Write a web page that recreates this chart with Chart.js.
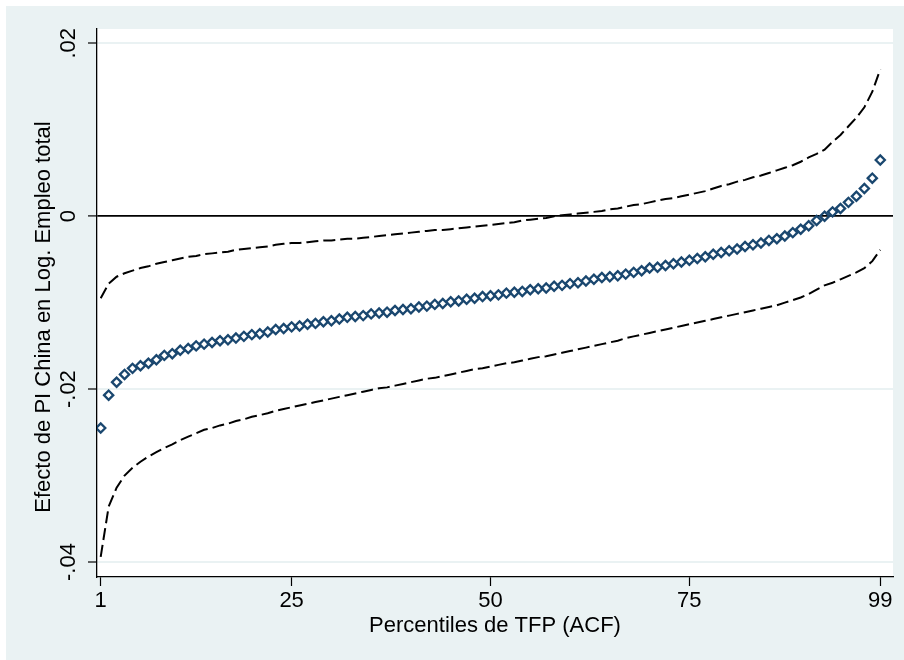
<!DOCTYPE html>
<html>
<head>
<meta charset="utf-8">
<script src="https://cdn.jsdelivr.net/npm/chart.js@4"></script>
<style>
  body { margin: 0; background: #fff; }
  #wrap { width: 904px; height: 660px; }
</style>
</head>
<body>
<div id="wrap"><canvas id="chart" width="904" height="660"></canvas></div>
<script>
// percentiles 1..99 of TFP (ACF)
const percentiles = Array.from({ length: 99 }, (_, i) => i + 1);
const xTickValues = [1, 25, 50, 75, 99];
const yTickValues = [-0.04, -0.02, 0, 0.02];
const yTickLabels = ['-.04', '-.02', '0', '.02'];

// point estimates
const effect = [
  -0.0245, -0.0207, -0.0192, -0.0183, -0.0176, -0.0173, -0.0170, -0.0166, -0.0161, -0.0159,
  -0.0155, -0.0153, -0.0150, -0.0148, -0.0146, -0.0144, -0.0143, -0.0141, -0.0139, -0.0137,
  -0.0136, -0.0134, -0.0131, -0.0130, -0.0128, -0.0127, -0.0125, -0.0124, -0.0122, -0.0121,
  -0.0119, -0.0117, -0.0116, -0.0115, -0.0113, -0.0112, -0.0111, -0.0109, -0.0108, -0.0107,
  -0.0105, -0.0104, -0.0102, -0.0101, -0.0099, -0.0098, -0.0096, -0.0095, -0.0093, -0.0092,
  -0.0091, -0.0089, -0.0088, -0.0087, -0.0085, -0.0084, -0.0083, -0.0081, -0.0080, -0.0078,
  -0.0077, -0.0075, -0.0073, -0.0071, -0.0070, -0.0069, -0.0067, -0.0065, -0.0063, -0.0060,
  -0.0059, -0.0057, -0.0055, -0.0053, -0.0051, -0.0049, -0.0047, -0.0044, -0.0042, -0.0040,
  -0.0038, -0.0035, -0.0033, -0.0031, -0.0028, -0.0026, -0.0023, -0.0019, -0.0015, -0.0011,
  -0.0005, 0.0000, 0.0005, 0.0009, 0.0016, 0.0023, 0.0032, 0.0044, 0.0065
];

// upper bound of CI
const upper = [
  -0.0095, -0.0078, -0.0070, -0.0066, -0.0063, -0.0060, -0.0058, -0.0055, -0.0053, -0.0051,
  -0.0049, -0.0047, -0.0046, -0.0044, -0.0043, -0.0042, -0.0041, -0.0039, -0.0038, -0.0037,
  -0.0036, -0.0035, -0.0033, -0.0032, -0.0031, -0.0031, -0.0030, -0.0029, -0.0028, -0.0028,
  -0.0027, -0.0026, -0.0026, -0.0025, -0.0024, -0.0023, -0.0022, -0.0021, -0.0020, -0.0019,
  -0.0018, -0.0017, -0.0016, -0.0016, -0.0015, -0.0014, -0.0013, -0.0012, -0.0011, -0.0010,
  -0.0009, -0.0008, -0.0007, -0.0005, -0.0004, -0.0003, -0.0002, 0.0000, 0.0001, 0.0002,
  0.0003, 0.0004, 0.0005, 0.0006, 0.0008, 0.0009, 0.0011, 0.0013, 0.0014, 0.0016,
  0.0018, 0.0020, 0.0021, 0.0023, 0.0025, 0.0027, 0.0029, 0.0032, 0.0035, 0.0037,
  0.0040, 0.0042, 0.0045, 0.0047, 0.0050, 0.0053, 0.0056, 0.0059, 0.0063, 0.0068,
  0.0072, 0.0077, 0.0086, 0.0094, 0.0104, 0.0114, 0.0126, 0.0144, 0.0170
];

// lower bound of CI
const lower = [
  -0.0394, -0.0336, -0.0314, -0.0300, -0.0291, -0.0284, -0.0278, -0.0273, -0.0268, -0.0264,
  -0.0259, -0.0255, -0.0251, -0.0247, -0.0245, -0.0242, -0.0240, -0.0237, -0.0235, -0.0232,
  -0.0230, -0.0228, -0.0225, -0.0223, -0.0221, -0.0219, -0.0217, -0.0215, -0.0213, -0.0211,
  -0.0209, -0.0207, -0.0205, -0.0203, -0.0201, -0.0199, -0.0198, -0.0196, -0.0194, -0.0192,
  -0.0190, -0.0188, -0.0187, -0.0185, -0.0183, -0.0181, -0.0179, -0.0177, -0.0176, -0.0174,
  -0.0172, -0.0170, -0.0169, -0.0167, -0.0165, -0.0163, -0.0162, -0.0160, -0.0158, -0.0156,
  -0.0154, -0.0152, -0.0150, -0.0148, -0.0146, -0.0144, -0.0141, -0.0139, -0.0137, -0.0135,
  -0.0133, -0.0131, -0.0129, -0.0127, -0.0125, -0.0123, -0.0121, -0.0119, -0.0117, -0.0115,
  -0.0113, -0.0111, -0.0109, -0.0107, -0.0105, -0.0103, -0.0100, -0.0097, -0.0094, -0.0090,
  -0.0085, -0.0080, -0.0077, -0.0073, -0.0069, -0.0065, -0.0060, -0.0052, -0.0039
];

const yTitle = 'Efecto de PI China en Log. Empleo total';
const xTitle = 'Percentiles de TFP (ACF)';

const FONT = '"Liberation Sans", Arial, sans-serif';
const BG = '#EAF2F3';
const NAVY = '#1A476F';

function toPoints(values) {
  return percentiles.map((p, i) => ({ x: p, y: values[i] }));
}

// stata-like background and white plot region
const backgroundPlugin = {
  id: 'stataBackground',
  beforeDraw(chart) {
    const c = chart.ctx;
    const a = chart.chartArea;
    c.save();
    c.fillStyle = '#fff';
    c.fillRect(0, 0, chart.width, chart.height);
    c.fillStyle = BG;
    c.fillRect(6, 6, chart.width - 6, chart.height - 6);
    c.fillStyle = '#fff';
    c.fillRect(a.left, a.top, a.right - a.left, a.bottom - a.top);
    c.restore();
  }
};

// rotated y tick labels and y title
const yLabelsPlugin = {
  id: 'yLabels',
  afterDraw(chart) {
    const c = chart.ctx;
    const y = chart.scales.y;
    c.save();
    c.fillStyle = '#000';
    c.font = '22px ' + FONT;
    c.textAlign = 'center';
    c.textBaseline = 'alphabetic';
    yTickValues.forEach((v, i) => {
      c.save();
      c.translate(75, y.getPixelForValue(v));
      c.rotate(-Math.PI / 2);
      c.fillText(yTickLabels[i], 0, 0);
      c.restore();
    });
    c.translate(50, 317);
    c.rotate(-Math.PI / 2);
    c.fillText(yTitle, 0, 0);
    c.restore();
  }
};

const chart = new Chart(document.getElementById('chart'), {
  type: 'line',
  data: {
    datasets: [
      {
        label: 'Efecto',
        data: toPoints(effect),
        showLine: false,
        pointStyle: 'rectRot',
        pointRadius: 4.6,
        pointBorderWidth: 2.3,
        pointBorderColor: NAVY,
        pointBackgroundColor: 'rgba(0,0,0,0)',
        order: 0
      },
      {
        label: 'Superior',
        data: toPoints(upper),
        borderColor: '#000',
        borderWidth: 2,
        borderDash: [12, 5],
        pointRadius: 0,
        tension: 0,
        fill: false,
        order: 1
      },
      {
        label: 'Inferior',
        data: toPoints(lower),
        borderColor: '#000',
        borderWidth: 2,
        borderDash: [12, 5],
        pointRadius: 0,
        tension: 0,
        fill: false,
        order: 1
      }
    ]
  },
  options: {
    responsive: false,
    animation: false,
    layout: { padding: { left: 0, top: 29, right: 11, bottom: 0 } },
    plugins: {
      legend: { display: false },
      tooltip: { enabled: false }
    },
    scales: {
      x: {
        type: 'linear',
        min: 0.535,
        max: 100.6,
        afterBuildTicks: (s) => { s.ticks = xTickValues.map(v => ({ value: v })); },
        afterFit: (s) => { s.height = 83; },
        grid: {
          drawOnChartArea: false,
          drawTicks: true,
          tickLength: 9,
          tickColor: '#000',
          tickWidth: 1.2
        },
        border: { display: true, color: '#000', width: 1.3 },
        ticks: {
          color: '#000',
          font: { family: FONT, size: 22 },
          padding: 2,
          maxRotation: 0,
          autoSkip: false
        },
        title: {
          display: true,
          text: xTitle,
          color: '#000',
          font: { family: FONT, size: 22 },
          padding: { top: 0, bottom: 21 }
        }
      },
      y: {
        type: 'linear',
        min: -0.041735,
        max: 0.021654,
        afterBuildTicks: (s) => { s.ticks = yTickValues.map(v => ({ value: v })); },
        afterFit: (s) => { s.width = 97; },
        grid: {
          color: (ctx) => (ctx.tick && ctx.tick.value === 0 ? '#000' : BG),
          lineWidth: (ctx) => (ctx.tick && ctx.tick.value === 0 ? 1.8 : 2),
          drawTicks: true,
          tickLength: 9,
          tickColor: '#000',
          tickWidth: 1.2
        },
        border: { display: true, color: '#000', width: 1.3 },
        ticks: { display: false }
      }
    }
  },
  plugins: [backgroundPlugin, yLabelsPlugin]
});
</script>
</body>
</html>
